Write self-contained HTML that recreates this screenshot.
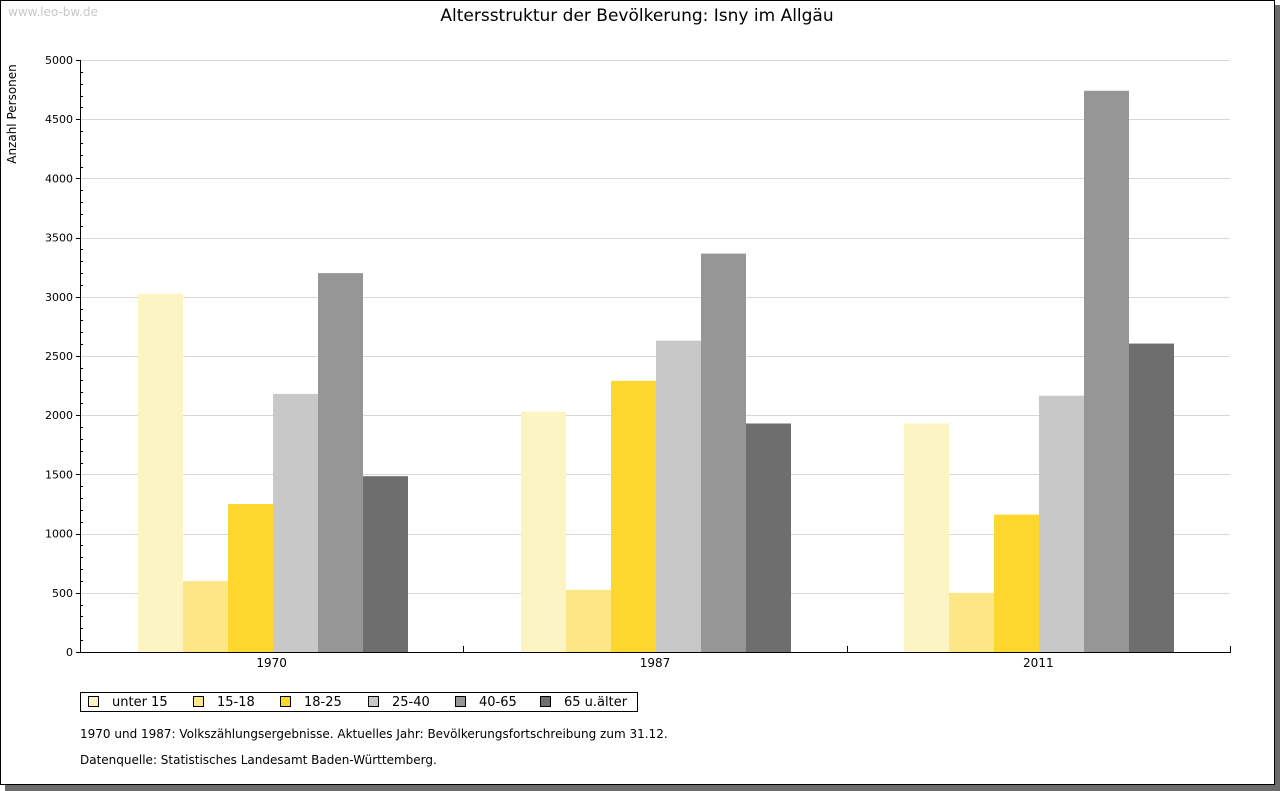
<!DOCTYPE html>
<html><head><meta charset="utf-8"><style>
body{margin:0;background:#fff;font-family:"Liberation Sans","DejaVu Sans",sans-serif;}
#wrap{position:relative;width:1280px;height:791px;overflow:hidden;}
</style></head><body>
<div id="wrap">
<svg id="svg" width="1280" height="791" xmlns="http://www.w3.org/2000/svg" font-family="DejaVu Sans, Liberation Sans, sans-serif">
<rect x="5" y="5" width="1275" height="786" fill="#6c6c6c"/>
<rect x="0.5" y="0.5" width="1274" height="784" fill="#fff" stroke="#000"/>
<text x="8" y="16" font-size="12" fill="#c8c8c8">www.leo-bw.de</text>
<text x="637" y="21" font-size="17" text-anchor="middle" fill="#000">Altersstruktur der Bevölkerung: Isny im Allgäu</text>
<text transform="translate(16,114) rotate(-90)" font-size="12" text-anchor="middle">Anzahl Personen</text>
<g id="grid"></g><g id="bars"></g><g id="axes"></g>
<g>
<rect x="80.5" y="692.5" width="557" height="19" fill="#fff" stroke="#000"/>
<g id="legend"></g>
</g>
<text x="80" y="738" font-size="12">1970 und 1987: Volkszählungsergebnisse. Aktuelles Jahr: Bevölkerungsfortschreibung zum 31.12.</text>
<text x="80" y="764" font-size="12">Datenquelle: Statistisches Landesamt Baden-Württemberg.</text>
</svg>
</div>
<script>
const categories=["1970","1987","2011"];
const seriesNames=["unter 15","15-18","18-25","25-40","40-65","65 u.älter"];
const s_u15=[3025,2030,1930];
const s_15_18=[600,525,500];
const s_18_25=[1250,2290,1160];
const s_25_40=[2180,2630,2165];
const s_40_65=[3200,3365,4740];
const s_65=[1485,1930,2605];
const yTicks=[0,500,1000,1500,2000,2500,3000,3500,4000,4500,5000];
const series=[s_u15,s_15_18,s_18_25,s_25_40,s_40_65,s_65];
const colors=["#fdf4c4","#fde685","#fed72e","#c8c8c8","#969696","#6e6e6e"];
const NS="http://www.w3.org/2000/svg";
const X0=80,X1=1230,Y0=652,Y1=60,YMAX=5000;
const y=v=>Y0-(v/YMAX)*(Y0-Y1);
const gw=(X1-X0)/categories.length;
function mk(t,a,p){const e=document.createElementNS(NS,t);for(const k in a)e.setAttribute(k,a[k]);p.appendChild(e);return e;}
const grid=document.getElementById('grid'),bars=document.getElementById('bars'),axes=document.getElementById('axes'),leg=document.getElementById('legend');
yTicks.forEach(v=>{
 if(v>0){const l=mk('line',{x1:X0,x2:X1,y1:Math.round(y(v))+0.5,y2:Math.round(y(v))+0.5,stroke:'#d8d8d8'},grid);
 
 }
 const t=mk('text',{x:73,y:y(v)+4,'font-size':11,'text-anchor':'end'},axes);t.textContent=v;
 
 
 mk('line',{x1:76,x2:X0,y1:Math.round(y(v))+0.5,y2:Math.round(y(v))+0.5,stroke:'#000'},axes);
});
for(let v=100;v<YMAX;v+=100){if(v%500)mk('line',{x1:X0,x2:X0+3,y1:Math.round(y(v))+0.5,y2:Math.round(y(v))+0.5,stroke:'#000'},axes);}
const bw=45;
categories.forEach((c,i)=>{
 const start=Math.round(X0+gw*i+gw/2-3*bw)+1;
 series.forEach((s,j)=>{
  const r=mk('rect',{x:start+j*bw,y:y(s[i]),width:bw,height:Y0-y(s[i]),fill:colors[j]},bars);
  
  
 });
 const t=mk('text',{x:X0+gw*(i+0.5),y:667,'font-size':12,'text-anchor':'middle'},axes);t.textContent=c;
 
 
 const tx=Math.round(X0+gw*(i+1))+0.5;
 mk('line',{x1:tx,x2:tx,y1:Y0-6,y2:Y0,stroke:'#000'},axes);
});
mk('line',{x1:X0+0.5,x2:X0+0.5,y1:Y1,y2:Y0+1,stroke:'#000'},axes);
mk('line',{x1:X0,x2:X1+1,y1:Y0+0.5,y2:Y0+0.5,stroke:'#000'},axes);
const lx=[88,193,280,368,455,540];
seriesNames.forEach((n,j)=>{
 const r=mk('rect',{x:lx[j]+0.5,y:696.5,width:10,height:10,fill:colors[j],stroke:'#000'},leg);
 
 
 const t=mk('text',{x:lx[j]+24,y:706,'font-size':13},leg);t.textContent=n;
 
 
});
</script>
</body></html>
